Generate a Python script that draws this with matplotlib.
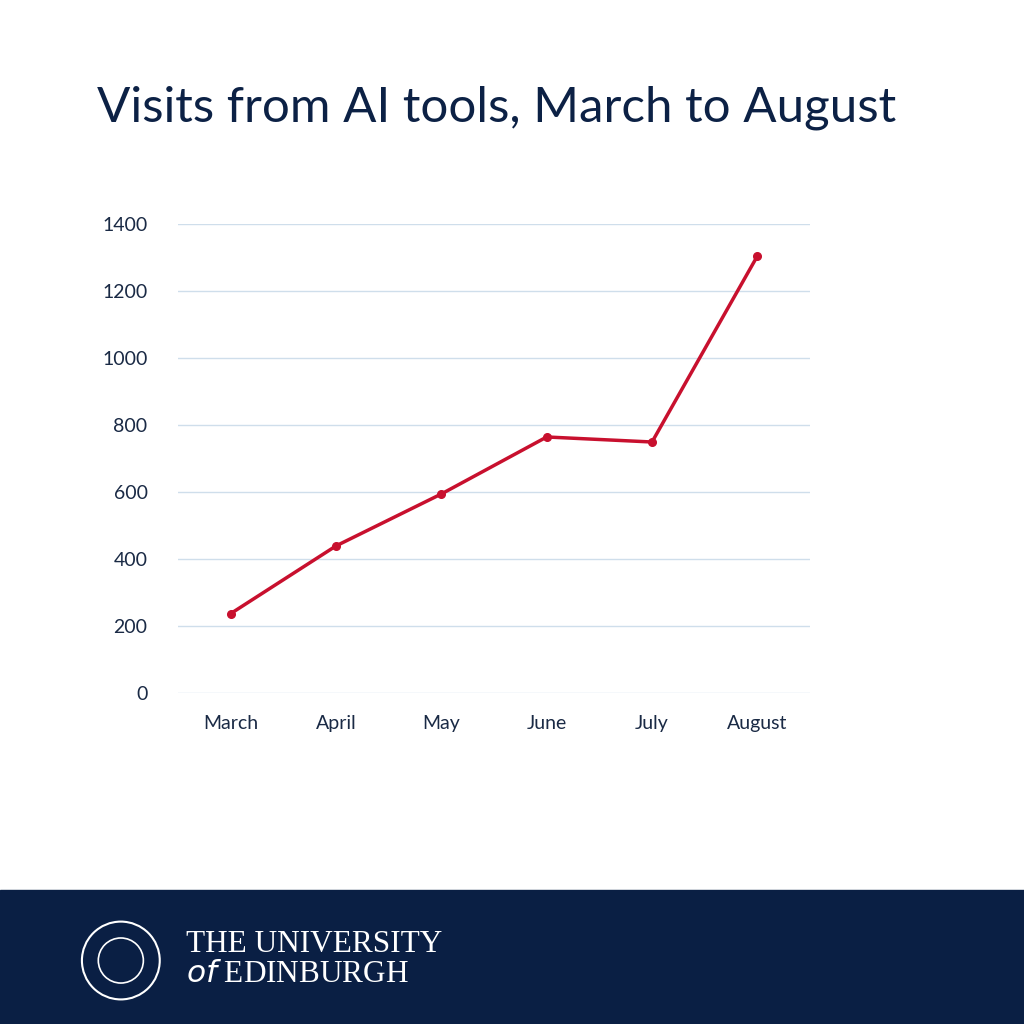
import matplotlib.pyplot as plt
from matplotlib.patches import Rectangle, Circle

months = ["March", "April", "May", "June", "July", "August"]
visits = [238, 440, 595, 765, 750, 1305]
yticks = [0, 200, 400, 600, 800, 1000, 1200, 1400]

navy = "#0c2145"
red = "#c8102e"

plt.rcParams["font.family"] = ["Lato", "DejaVu Sans"]

fig = plt.figure(figsize=(10.24, 10.24), dpi=100)
ax = fig.add_axes([0.174, 0.323, 0.617, 0.458])

x = range(len(months))
ax.plot(x, visits, color=red, lw=2.5, marker="o", ms=5.5, zorder=3)
ax.set_xlim(-0.5, 5.5)
ax.set_ylim(0, 1400)
ax.set_yticks(yticks)
ax.set_xticks(list(x))
ax.set_xticklabels(months)
ax.grid(axis="y", color="#cfdeeb", lw=1)
ax.set_axisbelow(True)
for s in ax.spines.values():
    s.set_visible(False)
ax.tick_params(length=0, labelsize=14, colors="#1a2a45", pad=16)
ax.tick_params(axis="y", pad=22)

fig.text(0.095, 0.895, "Visits from AI tools, March to August", fontsize=35.5,
         color=navy, va="center", ha="left")

# footer band
fig.add_artist(Rectangle((0, 0), 1, 0.131, transform=fig.transFigure,
                         color="#0a1f44", zorder=0))
fig.add_artist(Circle((0.118, 0.062), 0.038, transform=fig.transFigure,
                      fill=False, ec="white", lw=1.5))
fig.add_artist(Circle((0.118, 0.062), 0.022, transform=fig.transFigure,
                      fill=False, ec="white", lw=1.2))
fig.text(0.182, 0.078, "THE UNIVERSITY", fontsize=22.5, color="white",
         family="Liberation Serif", va="center")
fig.text(0.182, 0.048, r"$\it{of}$ EDINBURGH", fontsize=22.5, color="white",
         family="Liberation Serif", va="center")

fig.savefig("out.png", dpi=100, facecolor="white")
